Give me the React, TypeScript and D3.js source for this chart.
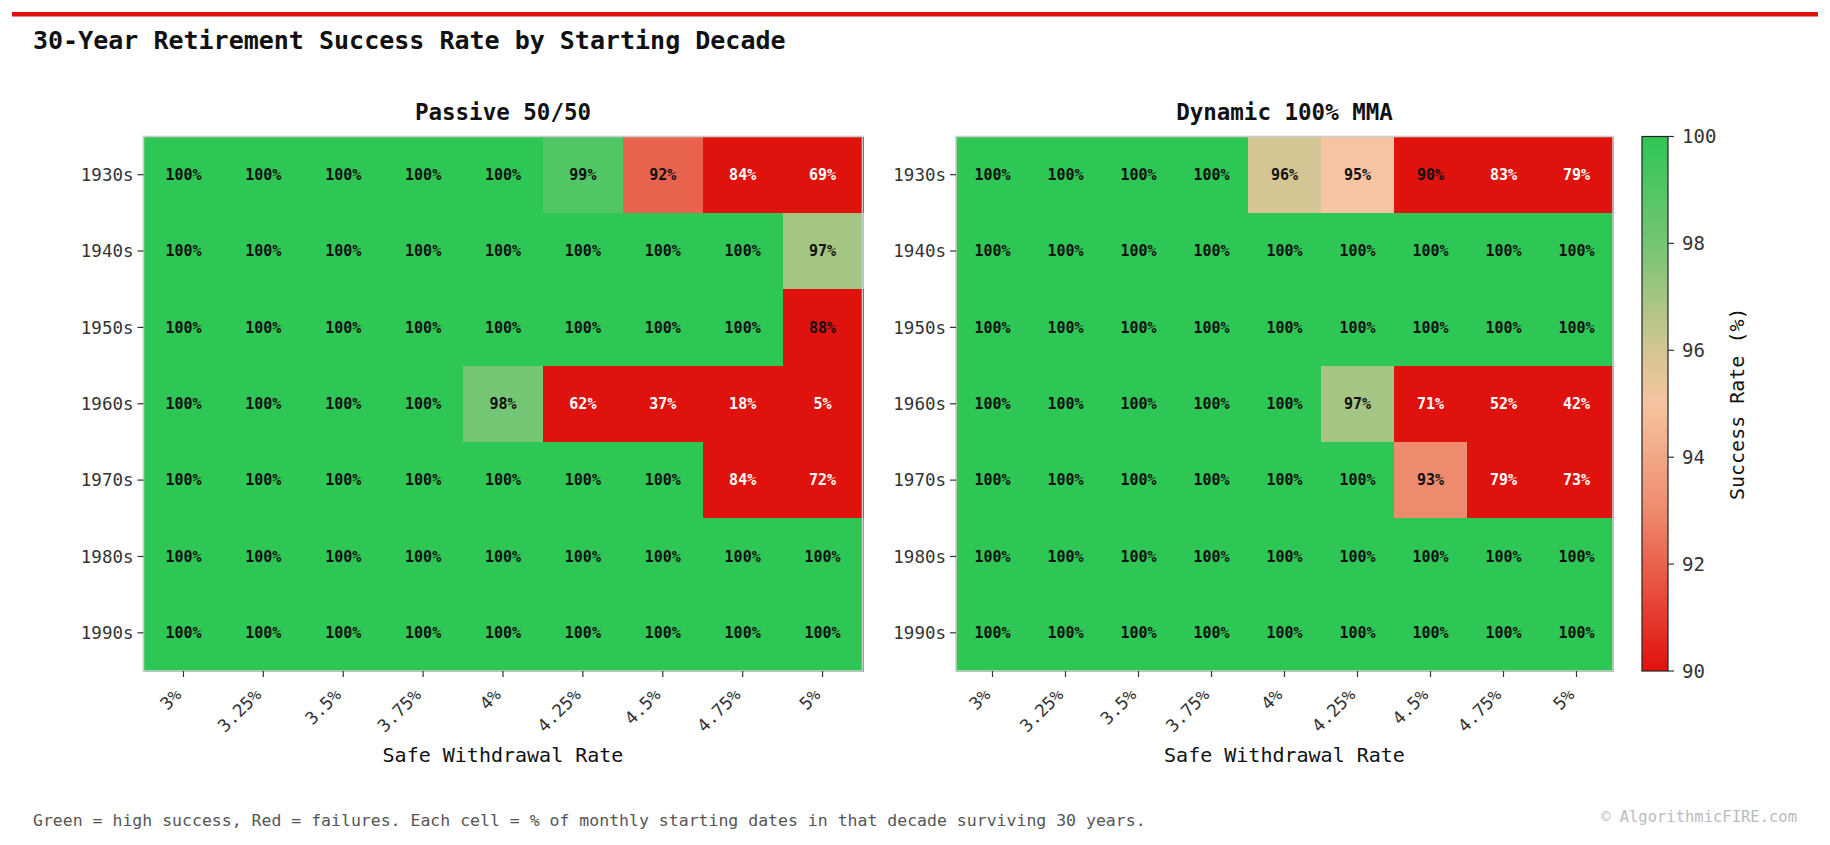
import React from "react";
import * as d3 from "d3";

const decades = ["1930s", "1940s", "1950s", "1960s", "1970s", "1980s", "1990s"];
const withdrawalRates = ["3%", "3.25%", "3.5%", "3.75%", "4%", "4.25%", "4.5%", "4.75%", "5%"];

// success rate (%) per decade row, one value per withdrawal rate
const passive5050 = [
  [100, 100, 100, 100, 100, 99, 92, 84, 69],
  [100, 100, 100, 100, 100, 100, 100, 100, 97],
  [100, 100, 100, 100, 100, 100, 100, 100, 88],
  [100, 100, 100, 100, 98, 62, 37, 18, 5],
  [100, 100, 100, 100, 100, 100, 100, 84, 72],
  [100, 100, 100, 100, 100, 100, 100, 100, 100],
  [100, 100, 100, 100, 100, 100, 100, 100, 100],
];

const dynamicMMA = [
  [100, 100, 100, 100, 96, 95, 90, 83, 79],
  [100, 100, 100, 100, 100, 100, 100, 100, 100],
  [100, 100, 100, 100, 100, 100, 100, 100, 100],
  [100, 100, 100, 100, 100, 97, 71, 52, 42],
  [100, 100, 100, 100, 100, 100, 93, 79, 73],
  [100, 100, 100, 100, 100, 100, 100, 100, 100],
  [100, 100, 100, 100, 100, 100, 100, 100, 100],
];

const colorbarTicks = [90, 92, 94, 96, 98, 100];

const W = 1830;
const H = 845;
const mono = "'DejaVu Sans Mono', 'Liberation Mono', monospace";

const plotTop = 136.5;
const plotBottom = 671;

// red -> peach -> green, clamped below 90
const color = d3
  .scaleLinear<string>()
  .domain([90, 93, 95, 96, 98, 100])
  .range(["#e0120d", "#ee8a6e", "#f5c4a0", "#d4c594", "#74c574", "#2ec655"])
  .clamp(true);

interface HeatmapProps {
  title: string;
  values: number[][];
  left: number;
  right: number;
}

function Heatmap({ title, values, left, right }: HeatmapProps) {
  const x = d3.scaleBand().domain(withdrawalRates).range([left, right]);
  const y = d3.scaleBand().domain(decades).range([plotTop, plotBottom]);
  const cx = (left + right) / 2;

  return (
    <g>
      <text x={cx} y={120} textAnchor="middle" fontFamily={mono} fontWeight="bold" fontSize={22.5} fill="#111">
        {title}
      </text>

      <g shapeRendering="crispEdges">
        {decades.map((d, i) =>
          withdrawalRates.map((r, j) => (
            <rect
              key={d + r}
              x={x(r)}
              y={y(d)}
              width={x.bandwidth() + 1}
              height={y.bandwidth() + 1}
              fill={color(values[i][j])}
            />
          ))
        )}
      </g>

      {decades.map((d, i) =>
        withdrawalRates.map((r, j) => {
          const v = values[i][j];
          return (
            <text
              key={d + r}
              x={(x(r) ?? 0) + x.bandwidth() / 2}
              y={(y(d) ?? 0) + y.bandwidth() / 2}
              dy="0.35em"
              textAnchor="middle"
              fontFamily={mono}
              fontWeight="bold"
              fontSize={15}
              fill={v < 85 ? "#ffffff" : "#111111"}
            >
              {v}%
            </text>
          );
        })
      )}

      <rect
        x={left}
        y={plotTop}
        width={right - left}
        height={plotBottom - plotTop}
        fill="none"
        stroke="#cccccc"
        strokeWidth={1.6}
      />

      {/* y axis */}
      {decades.map((d) => {
        const yy = (y(d) ?? 0) + y.bandwidth() / 2;
        return (
          <g key={d}>
            <line x1={left - 6} x2={left} y1={yy} y2={yy} stroke="#333" strokeWidth={1.2} />
            <text x={left - 10} y={yy} dy="0.35em" textAnchor="end" fontFamily={mono} fontSize={17.5} fill="#333">
              {d}
            </text>
          </g>
        );
      })}

      {/* x axis */}
      {withdrawalRates.map((r) => {
        const xx = (x(r) ?? 0) + x.bandwidth() / 2;
        return (
          <g key={r}>
            <line x1={xx} x2={xx} y1={plotBottom} y2={plotBottom + 6} stroke="#333" strokeWidth={1.2} />
            <text
              transform={`translate(${xx - 1},${plotBottom + 25}) rotate(-45)`}
              textAnchor="end"
              fontFamily={mono}
              fontSize={17.5}
              fill="#333"
            >
              {r}
            </text>
          </g>
        );
      })}

      <text x={cx} y={762} textAnchor="middle" fontFamily={mono} fontSize={20} fill="#111">
        Safe Withdrawal Rate
      </text>
    </g>
  );
}

function Colorbar() {
  const left = 1642;
  const width = 26;
  const y = d3.scaleLinear().domain([90, 100]).range([plotBottom, plotTop]);
  const stops = d3.range(0, 1.0001, 0.05);

  return (
    <g>
      <defs>
        <linearGradient id="cbar" x1="0" y1="1" x2="0" y2="0">
          {stops.map((t) => (
            <stop key={t} offset={t} stopColor={color(90 + t * 10)} />
          ))}
        </linearGradient>
      </defs>
      <rect
        x={left}
        y={plotTop}
        width={width}
        height={plotBottom - plotTop}
        fill="url(#cbar)"
        stroke="#222"
        strokeWidth={1.2}
      />
      {colorbarTicks.map((t) => (
        <g key={t}>
          <line x1={left + width} x2={left + width + 6} y1={y(t)} y2={y(t)} stroke="#333" strokeWidth={1.2} />
          <text x={left + width + 14} y={y(t)} dy="0.35em" fontFamily={mono} fontSize={19} fill="#333">
            {t}
          </text>
        </g>
      ))}
      <text
        transform={`translate(1744,${(plotTop + plotBottom) / 2}) rotate(-90)`}
        textAnchor="middle"
        fontFamily={mono}
        fontSize={20}
        fill="#111"
      >
        Success Rate (%)
      </text>
    </g>
  );
}

export default function App() {
  return (
    <svg width={W} height={H} style={{ position: "absolute", left: 0, top: 0, background: "#fff" }}>
      <rect width={W} height={H} fill="#ffffff" />
      <rect x={12} y={12} width={1806} height={4.5} fill="#e0140e" />
      <text x={33} y={49} fontFamily={mono} fontWeight="bold" fontSize={25} fill="#111">
        30-Year Retirement Success Rate by Starting Decade
      </text>

      <Heatmap title="Passive 50/50" values={passive5050} left={143.5} right={862.5} />
      <Heatmap title="Dynamic 100% MMA" values={dynamicMMA} left={956} right={1613} />
      <Colorbar />

      <text x={33} y={826} fontFamily={mono} fontSize={16.5} fill="#555">
        Green = high success, Red = failures. Each cell = % of monthly starting dates in that decade surviving 30 years.
      </text>
      <text x={1797} y={822} textAnchor="end" fontFamily={mono} fontSize={15.5} fill="#bbb">
        © AlgorithmicFIRE.com
      </text>
    </svg>
  );
}
